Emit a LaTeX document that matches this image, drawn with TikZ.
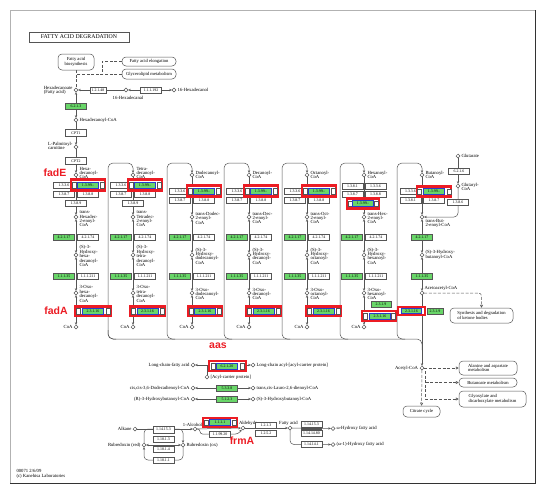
\documentclass[tikz,border=0pt]{standalone}
\usepackage{fontspec}
\setmainfont{Liberation Serif}
\newfontfamily\genefont{Liberation Sans}
\usetikzlibrary{arrows.meta}
\pgfdeclarelayer{bg}
\pgfsetlayers{bg,main}
\definecolor{kgreen}{RGB}{105,214,105}
\definecolor{kred}{RGB}{236,28,36}
\definecolor{kblue}{RGB}{40,60,205}
\definecolor{kline}{RGB}{85,85,85}
\tikzset{
  tx/.style={font=\fontsize{4.7}{4.4}\selectfont, inner sep=0.3pt, align=left},
  enz/.style={draw=kline, fill=white, line width=0.35pt, minimum width=21pt, minimum height=6pt, inner sep=0pt, font=\fontsize{3.9}{4}\selectfont},
  genz/.style={enz, fill=kgreen},
  genzb/.style={enz, fill=kgreen, draw=kblue, line width=0.7pt},
  hlbox/.style={draw=kred, line width=2.7pt, fill=white, inner sep=0pt},
  sbox/.style={draw=kline, fill=white, line width=0.3pt, minimum width=3.5pt, minimum height=5.5pt, inner sep=0pt},
  cmp/.style={circle, draw=kline, fill=white, line width=0.5pt, minimum size=3.8pt, inner sep=0pt},
  ln/.style={draw=kline, line width=0.5pt},
  tp/.style={-{Stealth[length=2.6pt,width=2.3pt]}},
  bt/.style={{Stealth[length=2.6pt,width=2.3pt]}-{Stealth[length=2.6pt,width=2.3pt]}},
  otp/.style={-{Triangle[open,length=3pt,width=3pt]}},
  dsh/.style={draw=kline, line width=0.5pt, dash pattern=on 3pt off 1.6pt},
  pbox/.style={draw=kline, rounded corners=4pt, fill=white, line width=0.5pt, font=\fontsize{4.6}{4.6}\selectfont, align=left, inner sep=1.5pt},
  gene/.style={text=kred, font=\genefont\bfseries\fontsize{10.5}{12}\selectfont, inner sep=0pt},
}
\begin{document}
\begin{tikzpicture}[x=1pt,y=-1pt]
\useasboundingbox (0,0) rectangle (550,493);
\node[draw=kline, line width=0.7pt, minimum width=100pt, minimum height=10pt, inner sep=0pt, font=\fontsize{5.8}{6}\selectfont] (title) at (79,37) {FATTY ACID DEGRADATION};
\node[pbox, minimum width=36pt, minimum height=16pt, align=center] (fab) at (76,62) {Fatty acid\\biosynthesis};
\node[pbox, minimum width=54pt, minimum height=9pt] (fae) at (149,61.5) {Fatty acid elongation};
\node[pbox, minimum width=54pt, minimum height=10pt] (glm) at (149,74) {Glycerolipid metabolism};
\node[cmp] (hexa) at (76,90) {};
\node[tx, anchor=east, align=left] (hexaL) at (73,90.5) {Hexadecanoate\\(Fatty acid)};
\node[enz, minimum width=16pt] (e1) at (98,90) {1.2.1.48};
\node[cmp] (hdal) at (126,90) {};
\node[tx] (hdalL) at (128,97.5) {16-Hexadecanal};
\node[enz] (e2) at (151,90) {1.1.1.192};
\node[cmp] (hdol) at (174,90) {};
\node[tx, anchor=west] (hdolL) at (177,90) {16-Hexadecanol};
\node[genz] (acs) at (76,106) {6.2.1.3};
\node[cmp] (hcoa1) at (76,120) {};
\node[tx, anchor=west] (hcoa1L) at (79,120) {Hexadecanoyl-CoA};
\node[enz, minimum height=7pt] (cpt1) at (76,133) {CPT1};
\node[cmp] (carn) at (76,147) {};
\node[tx, anchor=east] (carnL) at (73,146) {L-Palmitoyl-\\carnitine};
\node[enz, minimum height=7pt] (cpt2) at (76,161) {CPT2};
\foreach \i/\cx in {1/76,2/133,3/192,4/249,5/307,6/364,7/422}{
  \node[cmp] (a\i) at (\cx,175) {};
  \node[cmp] (t\i) at (\cx,217) {};
  \node[cmp] (h\i) at (\cx,255) {};
  \node[cmp] (o\i) at (\cx,293) {};
}
\foreach \i/\cx in {1/76,2/133,3/192,4/249,5/307,6/364}{
  \node[cmp] (coa\i) at (\cx,327) {};
  \node[tx, anchor=east] (coaL\i) at ({\cx-3},327) {CoA};
}
\node[tx, anchor=west] (aL1) at (79,173) {Hexa-\\decanoyl-\\CoA};
\node[tx, anchor=west] (aL2) at (136,173) {Tetra-\\decanoyl-\\CoA};
\node[tx, anchor=west] (aL3) at (195,175) {Dodecanoyl-\\CoA};
\node[tx, anchor=west] (aL4) at (252,175) {Decanoyl-\\CoA};
\node[tx, anchor=west] (aL5) at (310,175) {Octanoyl-\\CoA};
\node[tx, anchor=west] (aL6) at (367,175) {Hexanoyl-\\CoA};
\node[tx, anchor=west] (aL7) at (425,175) {Butanoyl-\\CoA};
\node[tx, anchor=west] (tL1) at (79,219) {trans-\\Hexadec-\\2-enoyl-\\CoA};
\node[tx, anchor=west] (tL2) at (136,219) {trans-\\Tetradec-\\2-enoyl-\\CoA};
\node[tx, anchor=west] (tL3) at (195,218) {trans-Dodec-\\2-enoyl-\\CoA};
\node[tx, anchor=west] (tL4) at (252,218) {trans-Dec-\\2-enoyl-\\CoA};
\node[tx, anchor=west] (tL5) at (310,218) {trans-Oct-\\2-enoyl-\\CoA};
\node[tx, anchor=west] (tL6) at (367,218) {trans-Hex-\\2-enoyl-\\CoA};
\node[tx, anchor=north west] (tL7) at (425,219) {trans-But-\\2-enoyl-CoA};
\node[tx, anchor=west] (hL1) at (79,256) {(S)-3-\\Hydroxy-\\hexa-\\decanoyl-\\CoA};
\node[tx, anchor=west] (hL2) at (136,256) {(S)-3-\\Hydroxy-\\tetra-\\decanoyl-\\CoA};
\node[tx, anchor=west] (hL3) at (195,256) {(S)-3-\\Hydroxy-\\dodecanoyl-\\CoA};
\node[tx, anchor=west] (hL4) at (252,256) {(S)-3-\\Hydroxy-\\decanoyl-\\CoA};
\node[tx, anchor=west] (hL5) at (310,256) {(S)-3-\\Hydroxy-\\octanoyl-\\CoA};
\node[tx, anchor=west] (hL6) at (367,256) {(S)-3-\\Hydroxy-\\hexanoyl-\\CoA};
\node[tx, anchor=west] (hL7) at (425,255) {(S)-3-Hydroxy-\\butanoyl-CoA};
\node[tx, anchor=west] (oL1) at (79,294) {3-Oxo-\\hexa-\\decanoyl-\\CoA};
\node[tx, anchor=west] (oL2) at (136,294) {3-Oxo-\\tetra-\\decanoyl-\\CoA};
\node[tx, anchor=west] (oL3) at (195,294) {3-Oxo-\\dodecanoyl-\\CoA};
\node[tx, anchor=west] (oL4) at (252,294) {3-Oxo-\\decanoyl-\\CoA};
\node[tx, anchor=west] (oL5) at (310,294) {3-Oxo-\\octanoyl-\\CoA};
\node[tx, anchor=west] (oL6) at (367,294) {3-Oxo-\\hexanoyl-\\CoA};
\node[tx, anchor=south west] (oL7) at (424,291.5) {Acetoacetyl-CoA};
\foreach \i/\cx/\yy in {1/76/185,2/133/185,3/192/191,4/249/191,5/307/191}{
  \node[enz] (d\i) at ({\cx-12},\yy) {1.3.3.6};
  \node[enz] (p\i) at ({\cx-12},{\yy+9}) {1.3.8.7};
  \node[enz] (q\i) at ({\cx+12},{\yy+9}) {1.3.8.8};
}
\node[enz] (n1) at (76,203) {1.3.8.9};
\node[enz] (n2) at (133,203) {1.3.8.9};
\foreach \i/\cx/\yy in {1/76/185,2/133/185,3/192/191,4/249/191,5/307/191}{
  \node[hlbox, minimum width=34pt, minimum height=10.5pt] (r\i) at ({\cx+12},\yy) {};
  \node[sbox] (ra\i) at ({\cx-2},\yy) {};
  \node[sbox] (rb\i) at ({\cx+26},\yy) {};
  \node[genzb] (g\i) at ({\cx+12},\yy) {1.3.99.-};
}
\node[enz] (d6) at (352.5,186) {1.3.8.1};
\node[enz] (e6) at (375.5,186) {1.3.3.6};
\node[enz] (p6) at (352.5,194.5) {1.3.8.7};
\node[enz] (q6) at (375.5,194.5) {1.3.8.8};
\node[hlbox, minimum width=32pt, minimum height=9.5pt] (r6) at (363,203.5) {};
\node[sbox] (ra6) at (350,203.5) {};
\node[sbox] (rb6) at (376,203.5) {};
\node[genzb] (g6) at (363,203.5) {1.3.99.-};
\node[enz] (d7) at (410.5,191.5) {1.3.3.6};
\node[enz] (p7) at (410.5,200.5) {1.3.8.1};
\node[enz] (q7) at (434,200.5) {1.3.8.7};
\node[hlbox, minimum width=34pt, minimum height=10pt] (r7) at (434,191.5) {};
\node[sbox] (ra7) at (419,191.5) {};
\node[sbox] (rb7) at (449,191.5) {};
\node[genzb] (g7) at (434,191.5) {1.3.99.-};
\node[cmp] (gluta) at (458,156) {};
\node[tx, anchor=west] (glutaL) at (461,156) {Glutarate};
\node[enz] (gcs) at (459,171) {6.2.1.6};
\node[cmp] (glutcoa) at (458,186) {};
\node[tx, anchor=west] (glutcoaL) at (461,187) {Glutaryl-\\CoA};
\node[enz] (gcd) at (458,202) {1.3.8.6};
\foreach \i/\cx in {1/76,2/133,3/192,4/249,5/307,6/364}{
  \node[genz] (hy\i) at ({\cx-12},237) {4.2.1.17};
  \node[enz] (hz\i) at ({\cx+12},237) {4.2.1.74};
  \node[genz] (dh\i) at ({\cx-12},276) {1.1.1.35};
  \node[enz] (di\i) at ({\cx+12},276) {1.1.1.211};
}
\node[genz] (hy7) at (422,237) {4.2.1.17};
\node[genz] (dh7) at (422,276) {1.1.1.35};
\foreach \i/\m/\w in {1/93/36,2/147.5/35,3/205/34,4/263.5/35,5/323.5/35}{
  \node[hlbox, minimum width=\w pt, minimum height=9.5pt] (k\i) at (\m,311) {};
  \node[sbox] (ka\i) at ({\m-\w/2+3},311) {};
  \node[sbox] (kb\i) at ({\m+\w/2-3},311) {};
  \node[genzb] (th\i) at (\m,311) {2.3.1.16};
}
\node[genz, minimum width=20pt, minimum height=5.5pt] (ac6) at (381,304) {2.3.1.9};
\node[hlbox, minimum width=34pt, minimum height=10pt] (k6) at (379,316) {};
\node[sbox] (ka6) at (365,316) {};
\node[sbox] (kb6) at (393,316) {};
\node[genzb] (th6) at (380,316) {2.3.1.16};
\node[hlbox, minimum width=27pt, minimum height=8pt] (k7) at (411.5,311) {};
\node[genzb, minimum width=20pt, minimum height=5.5pt] (th7) at (411.5,311) {2.3.1.16};
\node[genz, minimum width=16pt] (ac7) at (435,311) {2.3.1.9};
\node[cmp] (acetyl) at (422,368) {};
\node[tx, anchor=east] (acetylL) at (418.5,368) {Acetyl-CoA};
\node[pbox, minimum width=63pt, minimum height=15pt] (ket) at (481.5,315.5) {Synthesis and degradation\\of ketone bodies};
\node[pbox, minimum width=58pt, minimum height=14pt] (ala) at (488,368) {Alanine and aspartate\\metabolism};
\node[pbox, minimum width=58pt, minimum height=9pt] (but) at (488,382.5) {Butanoate metabolism};
\node[pbox, minimum width=67pt, minimum height=16pt] (gly) at (492.5,399) {Glyoxylate and\\dicarboxylate metabolism};
\node[pbox, minimum width=37pt, minimum height=11pt, align=center] (cit) at (421.5,411.5) {Citrate cycle};
\node[cmp] (lcfa) at (193,365) {};
\node[tx, anchor=east] (lcfaL) at (190,365) {Long-chain-fatty acid};
\node[hlbox, minimum width=37pt, minimum height=10pt] (ka) at (227.5,366) {};
\node[sbox] (kaa) at (213,366) {};
\node[sbox] (kab) at (242,366) {};
\node[genzb] (fadd) at (227,366) {6.2.1.20};
\node[cmp] (lcacp) at (253,365) {};
\node[tx, anchor=west] (lcacpL) at (256,365) {Long-chain acyl-[acyl-carrier protein]};
\node[cmp] (acp) at (207,377) {};
\node[tx, anchor=west] (acpL) at (210,377) {[Acyl-carrier protein]};
\node[cmp] (cd1) at (193,388) {};
\node[tx, anchor=east] (cd1L) at (190,388) {cis,cis-3,6-Dodecadienoyl-CoA};
\node[genz] (eci) at (227,388) {5.3.3.8};
\node[cmp] (cd2) at (253,388) {};
\node[tx, anchor=west] (cd2L) at (256,388) {trans,cis-Lauro-2,6-dienoyl-CoA};
\node[cmp] (hb1) at (193,399) {};
\node[tx, anchor=east] (hb1L) at (190,399) {(R)-3-Hydroxybutanoyl-CoA};
\node[genz] (epi) at (227,399) {5.1.2.3};
\node[cmp] (hb2) at (253,399) {};
\node[tx, anchor=west] (hb2L) at (256,399) {(S)-3-Hydroxybutanoyl-CoA};
\node[cmp] (alk) at (135,429) {};
\node[tx, anchor=east] (alkL) at (132,429) {Alkane};
\node[enz, minimum height=6.5pt] (alkb) at (163.5,429.5) {1.14.15.3};
\node[enz] (rb1) at (163.5,439.5) {1.18.1.3};
\node[enz] (rb2) at (163.5,449.5) {1.18.1.4};
\node[enz] (rb3) at (163.5,460) {1.18.1.1};
\node[cmp] (rr) at (144,445) {};
\node[tx, anchor=east] (rrL) at (141,445) {Rubredoxin (red)};
\node[cmp] (ro) at (183,445) {};
\node[tx, anchor=west] (roL) at (186,445) {Rubredoxin (ox)};
\node[cmp] (alc) at (195,429) {};
\node[tx, anchor=south] (alcL) at (192.5,427) {1-Alcohol};
\node[hlbox, minimum width=34pt, minimum height=9pt] (kf) at (220,422.5) {};
\node[sbox] (kfa) at (206,422.5) {};
\node[sbox] (kfb) at (234,422.5) {};
\node[genzb] (adh) at (220,422.5) {1.1.1.1};
\node[enz] (adh2) at (220,434) {1.1.99.20};
\node[cmp] (ald) at (243,428) {};
\node[tx, anchor=south west] (aldL) at (238.5,426.5) {Aldehyde};
\node[enz] (aldh1) at (266,425) {1.2.1.3};
\node[enz] (aldh2) at (266,433.5) {1.2.5.2};
\node[cmp] (fa) at (290,428) {};
\node[tx, anchor=south] (faL) at (288.5,426) {Fatty acid};
\node[enz] (cyp1) at (311.5,424.5) {1.14.15.3};
\node[enz] (cyp2) at (311.5,433.5) {1.14.14.80};
\node[fill=kline, minimum width=21pt, minimum height=2pt, inner sep=0pt] (cypbar) at (311.5,429) {};
\node[enz] (cyp3) at (311.5,444.5) {1.14.14.1};
\node[cmp] (whfa) at (333,428.5) {};
\node[tx, anchor=west] (whfaL) at (336,428.5) {ω-Hydroxy fatty acid};
\node[cmp] (w1fa) at (333,444.5) {};
\node[tx, anchor=west] (w1faL) at (336,444.5) {(ω-1)-Hydroxy fatty acid};
\node[gene] (fadE) at (55,173) {fadE};
\node[gene] (fadA) at (56,311) {fadA};
\node[gene] (aas) at (218,346) {aas};
\node[gene] (frmA) at (242,441) {frmA};
\node[tx, anchor=west] (foot) at (16,474) {00071 2/6/09\\(c) Kanehisa Laboratories};
\begin{pgfonlayer}{bg}
\fill[white] (0,0) rectangle (550,493);
\draw[gray!60, line width=0.5pt] (10,10) rectangle (535,483);
\draw[gray!40!black, line width=1pt] (10,483.5) -- (535.5,483.5) -- (535.5,10);
\draw[dsh] (fab) -- (hexa);
\draw[dsh] (glm.west) -- (76,74);
\draw[dsh] (fae.west) -- (102,61.5) -- (102,74);
\draw[ln,tp] (hdal) -- (hexa);
\draw[ln,bt] (hdol) -- (hdal);
\draw[ln,bt] (hexa) -- (hcoa1);
\draw[ln,tp] (hcoa1) -- (carn);
\draw[ln,tp] (carn) -- (a1);
\foreach \i in {1,...,7}{
  \draw[ln,tp] (a\i) -- (t\i);
  \draw[ln,bt] (t\i) -- (h\i);
  \draw[ln,bt] (h\i) -- (o\i);
}
\foreach \i in {1,...,6}{ \draw[ln,bt] (o\i) -- (coa\i); }
\draw[ln,tp] (o7) -- (acetyl);
\foreach \i/\lx/\cx in {2/108/133,3/167/192,4/224/249,5/282/307,6/340/364,7/397/422}{
  \draw[ln,tp,rounded corners=5pt] ({\lx+8},339) -- (\lx,339) -- (\lx,163) -- (\cx,163) -- (a\i);
}
\draw[ln,rounded corners=5pt] (108,330) -- (108,339) -- (422,339) -- (422,350);
\draw[ln,tp] (gluta) -- (glutcoa);
\draw[ln,tp,rounded corners=4pt] (glutcoa) -- (458,217) -- (t7);
\draw[dsh,otp,rounded corners=3pt] (o7) -- (481.5,293) -- (ket);
\draw[dsh,otp] (acetyl) -- (ala);
\draw[dsh,otp] (acetyl) -- (cit);
\draw[dsh,otp] (425.5,371) -- (425.5,399) -- (gly);
\draw[dsh,otp] (425.5,382.5) -- (but);
\draw[ln,bt] (lcfa) -- (lcacp);
\draw[ln] (acp) -- (207,365);
\draw[ln,bt] (cd1) -- (cd2);
\draw[ln,bt] (hb1) -- (hb2);
\draw[ln,tp] (alk) -- (alc);
\draw[ln,tp] (alc) -- (ald);
\draw[ln,tp,rounded corners=2.5pt] (alc) -- (200,429) -- (200,434) -- (238,434) -- (ald);
\draw[ln,tp] (ald) -- (fa);
\draw[ln,tp] (fa) -- (whfa);
\draw[ln,tp,rounded corners=4pt] (fa) -- (290,444.5) -- (w1fa);
\draw[ln,bt] (rr) -- (ro);
\draw[ln,tp,rounded corners=4pt] (rr) -- (144,429) -- (183,429) -- (ro);
\draw[ln,tp,rounded corners=4pt] (ro) -- (183,460) -- (144,460) -- (rr);
\end{pgfonlayer}
\end{tikzpicture}
\end{document}
